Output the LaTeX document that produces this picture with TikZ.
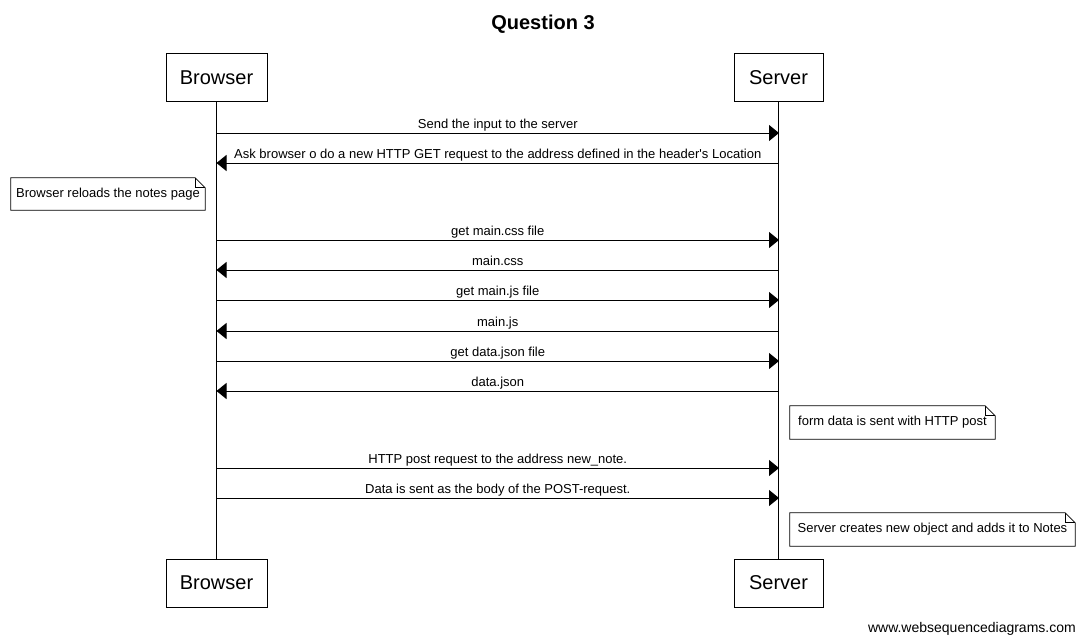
\documentclass[tikz,border=0pt]{standalone}
\usepackage{fontspec}
\setmainfont{Liberation Sans}
\usetikzlibrary{arrows.meta}
\begin{document}
\begin{tikzpicture}[x=1pt,y=-1pt,
  actor/.style={draw,line width=1pt,minimum height=48pt,inner sep=0pt,font=\fontsize{20}{24}\selectfont},
  msg/.style={line width=1pt,-{Triangle[length=10pt,width=16pt]}},
  lbl/.style={font=\fontsize{13}{15}\selectfont,anchor=base,inner sep=0pt,yshift=4.5pt},
  notebox/.style={minimum height=33pt,inner sep=0pt,font=\fontsize{13}{15}\selectfont},
  noteline/.style={line width=0.8pt}]
\useasboundingbox (0,0) rectangle (1085,642);
\node[font=\fontsize{20}{24}\selectfont\bfseries,anchor=base] (title) at (543,29.5) {Question 3};
\node[actor,minimum width=101pt] (bt) at (216.5,78) {Browser};
\node[actor,minimum width=89pt] (st) at (778.5,78) {Server};
\node[actor,minimum width=101pt] (bb) at (216.5,583) {Browser};
\node[actor,minimum width=89pt] (sb) at (778.5,583) {Server};
\draw[line width=1pt] (bt) -- (bb);
\draw[line width=1pt] (st) -- (sb);
\foreach \n/\y in {1/133,2/163,3/240,4/270,5/300,6/331,7/361,8/391,9/468,10/498}{
  \coordinate (b\n) at (216.5,\y);
  \coordinate (s\n) at (779,\y);
}
\draw[msg] (b1) -- node[lbl] {Send the input to the server} (s1);
\draw[msg] (s2) -- node[lbl] {Ask browser o do a new HTTP GET request to the address defined in the header\textquotesingle s Location} (b2);
\draw[msg] (b3) -- node[lbl] {get main.css file} (s3);
\draw[msg] (s4) -- node[lbl] {main.css} (b4);
\draw[msg] (b5) -- node[lbl] {get main.js file} (s5);
\draw[msg] (s6) -- node[lbl] {main.js} (b6);
\draw[msg] (b7) -- node[lbl] {get data.json file} (s7);
\draw[msg] (s8) -- node[lbl] {data.json} (b8);
\draw[msg] (b9) -- node[lbl] {HTTP post request to the address new\_note.} (s9);
\draw[msg] (b10) -- node[lbl] {Data is sent as the body of the POST-request.} (s10);
% notes
\node[notebox,minimum width=194pt,minimum height=32pt] (n1) at (108,194) {Browser reloads the notes page};
\node[notebox,minimum width=205pt] (n2) at (892.5,422.5) {form data is sent with HTTP post};
\node[notebox,minimum width=285pt] (n3) at (932.5,529.5) {Server creates new object and adds it to Notes};
\foreach \n in {n1,n2,n3}{
  \draw[noteline] (\n.north west) -- ([xshift=-10pt]\n.north east) -- ([yshift=-10pt]\n.north east) -- (\n.south east) -- (\n.south west) -- cycle;
  \draw[noteline] ([xshift=-10pt]\n.north east) -- ([xshift=-10pt,yshift=-10pt]\n.north east) -- ([yshift=-10pt]\n.north east);
}
\node[font=\fontsize{14}{16}\selectfont,anchor=base east,inner sep=0pt] (footer) at (1076,632) {www.websequencediagrams.com};
\end{tikzpicture}
\end{document}
